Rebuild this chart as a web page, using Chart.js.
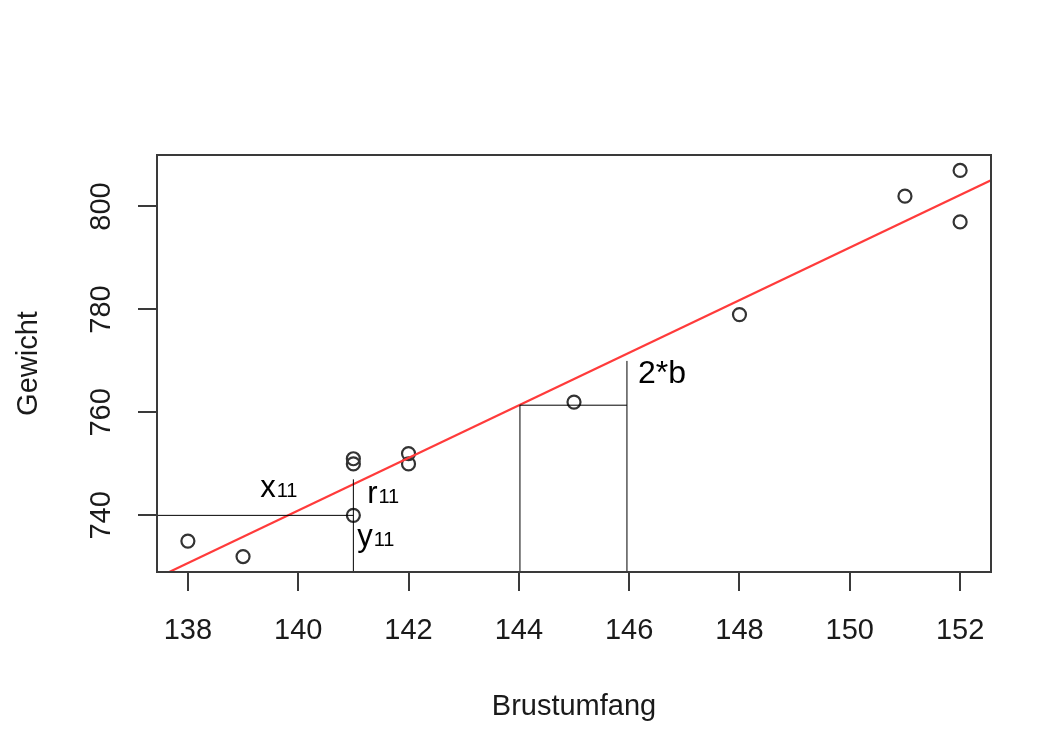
<!DOCTYPE html>
<html>
<head>
<meta charset="utf-8">
<script src="https://cdn.jsdelivr.net/npm/chart.js@4/dist/chart.umd.min.js"></script>
<style>
  html, body { margin: 0; padding: 0; background: #ffffff; }
  #wrap { width: 1055px; height: 755px; }
</style>
</head>
<body>
<div id="wrap"><canvas id="c" width="1055" height="755"></canvas></div>
<script>
// ---- data ----
const brustumfang = [138, 139, 141, 141, 141, 142, 142, 145, 148, 151, 152, 152];
const gewicht     = [735, 732, 751, 750, 740, 752, 750, 762, 779, 802, 807, 797];
const xTicks = [138, 140, 142, 144, 146, 148, 150, 152];
const yTicks = [740, 760, 780, 800];
const xTitle = 'Brustumfang';
const yTitle = 'Gewicht';

// annotation segments (data units): [x1, y1, x2, y2]
const segX11 = [[137.44, 740, 141, 740], [141, 729, 141, 747]];
const segB   = [[144.02, 729, 144.02, 761.4], [144.02, 761.4, 145.96, 761.4], [145.96, 729, 145.96, 770]];
// annotation labels: [main, subscript, x, y(baseline)]
const labels = [
  ['x', '11', 139.31, 743.6],
  ['r', '11', 141.25, 742.4],
  ['y', '11', 141.07, 734.1],
  ['2*b', '', 146.16, 765.7]
];

// ---- derived: axis ranges (R style 4% extension) and least-squares line ----
function ext(arr) {
  const mn = Math.min(...arr), mx = Math.max(...arr), d = (mx - mn) * 0.04;
  return [mn - d, mx + d];
}
const [xMin, xMax] = ext(brustumfang);
const [yMin, yMax] = ext(gewicht);
const n = brustumfang.length;
const mx = brustumfang.reduce((a, b) => a + b, 0) / n;
const my = gewicht.reduce((a, b) => a + b, 0) / n;
let sxy = 0, sxx = 0;
for (let i = 0; i < n; i++) { sxy += (brustumfang[i] - mx) * (gewicht[i] - my); sxx += (brustumfang[i] - mx) ** 2; }
const slope = sxy / sxx, intercept = my - slope * mx;

const FONT = "'Liberation Sans', Arial, Helvetica, sans-serif";
const AXC = '#3a3a3a';
const TXT = '#1a1a1a';

const points = brustumfang.map((x, i) => ({ x, y: gewicht[i] }));
const segDatasets = segX11.concat(segB).map(s => ({
  type: 'line',
  data: [{ x: s[0], y: s[1] }, { x: s[2], y: s[3] }],
  borderColor: '#000000', borderWidth: 1, pointRadius: 0, showLine: true, fill: false
}));

const overlay = {
  id: 'overlay',
  afterDraw(chart) {
    const ctx = chart.ctx, a = chart.chartArea;
    const xs = chart.scales.x, ys = chart.scales.y;
    ctx.save();
    // box
    ctx.strokeStyle = AXC; ctx.lineWidth = 2;
    ctx.strokeRect(a.left, a.top, a.right - a.left, a.bottom - a.top);
    // rotated y tick labels
    ctx.fillStyle = TXT;
    ctx.font = '29px ' + FONT;
    ctx.textAlign = 'center'; ctx.textBaseline = 'middle';
    yTicks.forEach(v => {
      const py = ys.getPixelForValue(v);
      ctx.save(); ctx.translate(102, py); ctx.rotate(-Math.PI / 2);
      ctx.fillText(String(v), 0, 0); ctx.restore();
    });
    // annotation labels
    ctx.textAlign = 'left'; ctx.textBaseline = 'alphabetic'; ctx.fillStyle = '#000';
    labels.forEach(([m, sub, x, y]) => {
      const px = xs.getPixelForValue(x), py = ys.getPixelForValue(y);
      const big = sub ? 31 : 32;
      ctx.font = big + 'px ' + FONT;
      ctx.fillText(m, px, py);
      const w = ctx.measureText(m).width;
      if (sub) { ctx.font = '20px ' + FONT; ctx.fillText(sub, px + w + 1, py); }
    });
    ctx.restore();
  }
};

new Chart(document.getElementById('c'), {
  type: 'scatter',
  data: {
    datasets: segDatasets.concat([
      {
        type: 'line',
        data: [{ x: xMin, y: intercept + slope * xMin }, { x: xMax, y: intercept + slope * xMax }],
        borderColor: '#ff3b3b', borderWidth: 2.2, pointRadius: 0, showLine: true, fill: false
      },
      {
        data: points,
        pointStyle: 'circle', pointRadius: 6.5, pointBorderWidth: 2.2,
        borderColor: '#333333', backgroundColor: 'rgba(0,0,0,0)', pointHoverRadius: 6.5
      }
    ])
  },
  plugins: [overlay],
  options: {
    responsive: false, animation: false,
    layout: { padding: { top: 155, right: 64, left: 0, bottom: 0 } },
    plugins: { legend: { display: false }, tooltip: { enabled: false } },
    scales: {
      x: {
        type: 'linear', min: xMin, max: xMax,
        afterBuildTicks: s => { s.ticks = xTicks.map(v => ({ value: v })); },
        afterFit: s => { s.height = 183; },
        grid: { drawOnChartArea: false, drawTicks: true, tickLength: 19, color: AXC, lineWidth: 2 },
        border: { display: true, color: AXC, width: 2 },
        ticks: { font: { size: 29, family: FONT }, color: TXT, padding: 23, maxRotation: 0, autoSkip: false },
        title: { display: true, text: xTitle, font: { size: 29, family: FONT }, color: TXT, padding: { top: 0, bottom: 31 } }
      },
      y: {
        type: 'linear', min: yMin, max: yMax,
        afterBuildTicks: s => { s.ticks = yTicks.map(v => ({ value: v })); },
        afterFit: s => { s.width = 157; },
        grid: { drawOnChartArea: false, drawTicks: true, tickLength: 19, color: AXC, lineWidth: 2 },
        border: { display: true, color: AXC, width: 2 },
        ticks: { display: false },
        title: { display: true, text: yTitle, font: { size: 29, family: FONT }, color: TXT, padding: { top: 12, bottom: 12 } }
      }
    }
  }
});
</script>
</body>
</html>
